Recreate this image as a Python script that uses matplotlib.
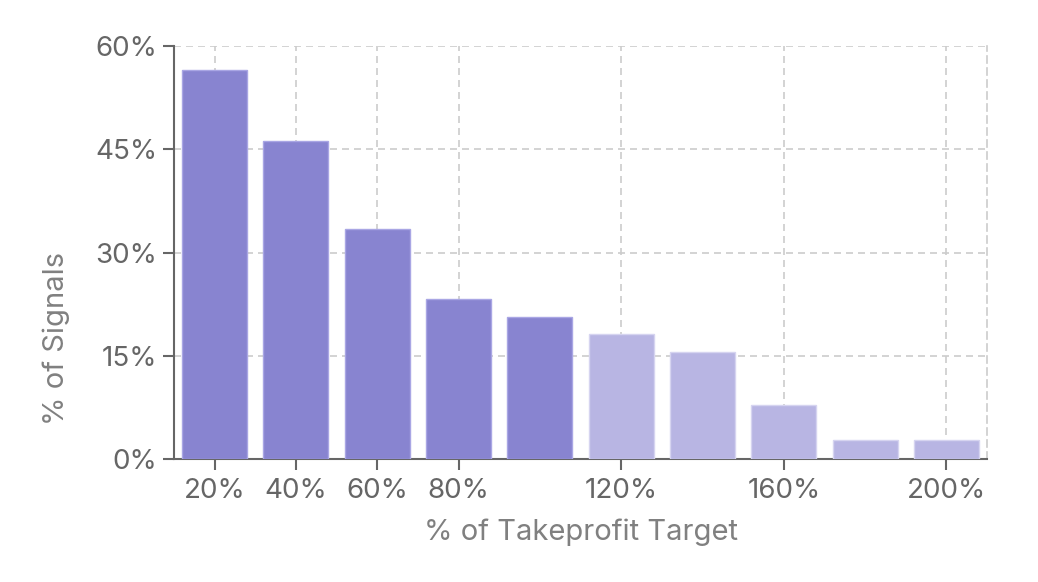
import numpy as np
import matplotlib
matplotlib.use('Agg')
import matplotlib.pyplot as plt

# data
targets = [20, 40, 60, 80, 100, 120, 140, 160, 180, 200]
signals = [56.5, 46.2, 33.4, 23.2, 20.6, 18.1, 15.5, 7.8, 2.7, 2.7]
xticks = [20, 40, 60, 80, 120, 160, 200]
yticks = [0, 15, 30, 45, 60]

dark = '#8884d0'
light = '#b8b5e3'
colors = [dark if t <= 100 else light for t in targets]
edges = ['#a9a6e4' if t <= 100 else '#d6d4f0' for t in targets]

plt.rcParams['font.family'] = ['Inter', 'DejaVu Sans']

fig = plt.figure(figsize=(10.38, 5.82), dpi=100)
ax = fig.add_axes([0.1676, 0.2113, 0.951 - 0.1676, 0.921 - 0.2113])

gridstyle = (0, (4.2, 3))
ax.bar(targets, signals, width=16, color=colors, edgecolor=edges, linewidth=1, zorder=3)

ax.set_xlim(10, 210)
ax.set_ylim(0, 60)
ax.set_xticks(xticks)
ax.set_xticklabels(['%d%%' % t for t in xticks])
ax.set_yticks(yticks)
ax.set_yticklabels(['%d%%' % t for t in yticks])

ax.grid(True, color='#cccccc', linestyle=gridstyle, linewidth=1.2, zorder=0)

for s in ['left', 'bottom']:
    ax.spines[s].set_color('#666666')
    ax.spines[s].set_linewidth(1.5)
ax.spines['top'].set_visible(False)
ax.spines['right'].set_color('#cccccc')
ax.spines['right'].set_linestyle(gridstyle)
ax.spines['right'].set_linewidth(1.2)

ax.tick_params(axis='both', colors='#666666', labelcolor='#666666', length=8, width=1.5,
               labelsize=20, pad=4)
ax.tick_params(axis='x', pad=6)

ax.set_xlabel('% of Takeprofit Target', fontsize=21, color='#808080', labelpad=10)
ax.set_ylabel('% of Signals', fontsize=21, color='#808080')
ax.yaxis.set_label_coords(-0.128, 0.293)

fig.savefig('out.png', dpi=100)
